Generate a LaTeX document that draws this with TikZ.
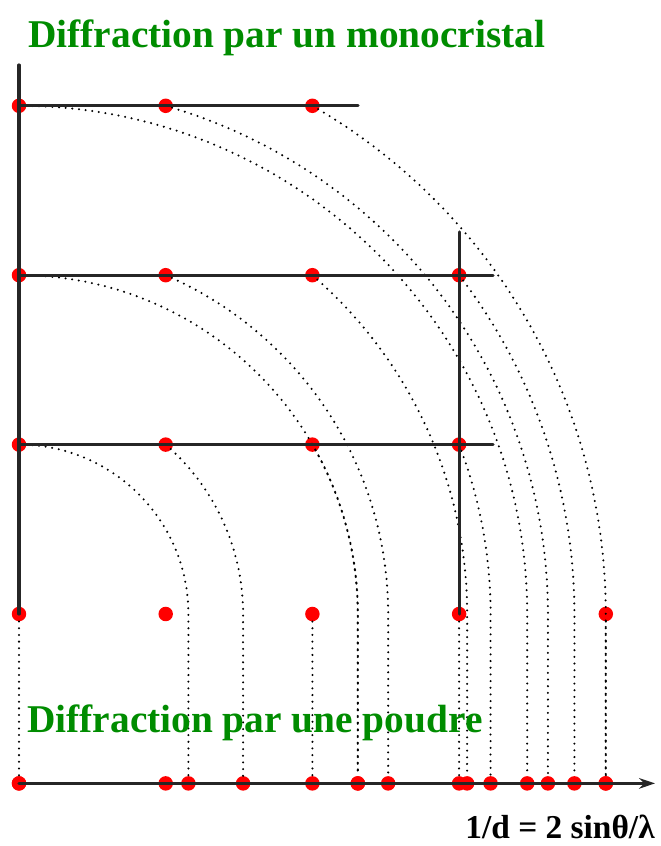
\documentclass[tikz,border=0pt]{standalone}
\usepackage{fontspec}
\setmainfont{Liberation Serif}
\usetikzlibrary{arrows.meta}
\definecolor{vert}{RGB}{0,140,0}
\begin{document}
\begin{tikzpicture}[x=0.02cm, y=0.02cm, line join=round, line cap=round, >={Stealth[length=9pt,width=6pt]},
		trait/.style={line width=1.8pt, black!85},
		cercle/.style={line width=1.3pt, dash pattern=on 0pt off 3.8pt},
		tache/.style={circle, fill=red, inner sep=0pt, minimum size=0.29cm},
		titre/.style={font=\bfseries\fontsize{22.4}{26}\selectfont, text=vert, anchor=base west, inner sep=0pt}]
		\useasboundingbox (0,0) rectangle (660,846);
		\def\a{146.7}
		\def\b{169.4}
		\node[titre] (mono) at (28,798) {Diffraction par un monocristal};
		\begin{scope}[shift={(19,232)}]
			\foreach \h/\k in {0/0,1/0,2/0,3/0,4/0,0/1,1/1,2/1,3/1,0/2,1/2,2/2,3/2,0/3,1/3,2/3}
				\node[tache] (s\h\k) at (\h*\a,\k*\b) {};
			\coordinate (o) at (0,-\b);
			\node[tache] (p0) at (o) {};
			\node[tache] (p1) at (\a,-\b) {};
			\foreach \h in {0,2,3,4}{
				\node[tache] (q\h) at (\h*\a,-\b) {};
				\draw[cercle] (s\h0) -- (q\h);
			}
			\foreach \h/\k in {0/1,1/1,2/1,3/1,0/2,1/2,2/2,3/2,0/3,1/3,2/3}{
				\pgfmathsetmacro\px{\h*\a}
				\pgfmathsetmacro\py{\k*\b}
				\pgfmathsetmacro\r{veclen(\px,\py)}
				\pgfmathsetmacro\t{atan2(\py,\px)}
				\node[tache] (r\h\k) at (\r,-\b) {};
				\draw[cercle] (s\h\k.center) arc[start angle=\t, end angle=0, radius=\r] -- (r\h\k);
			}
			\coordinate (haut) at (0,549);
			\coordinate (fin) at (636,-\b);
			\coordinate (h3) at (339,3*\b);
			\coordinate (h2) at (474,2*\b);
			\coordinate (h1) at (474,\b);
			\coordinate (v3) at (3*\a,382);
			\draw[trait] (haut) -- (s00.center);
			\draw[trait] (s03.center) -- (h3);
			\draw[trait] (s02.center) -- (h2);
			\draw[trait] (s01.center) -- (h1);
			\draw[trait] (v3) -- (s30.center);
			\draw[trait, ->] (o) -- (fin);
		\end{scope}
		\node[titre] (poudre) at (27,113) {Diffraction par une poudre};
		\node[font=\bfseries\fontsize{19}{22}\selectfont, anchor=base east, inner sep=0pt] (loi) at (655,8) {1/d = 2 sinθ/λ};
	\end{tikzpicture}
\end{document}
